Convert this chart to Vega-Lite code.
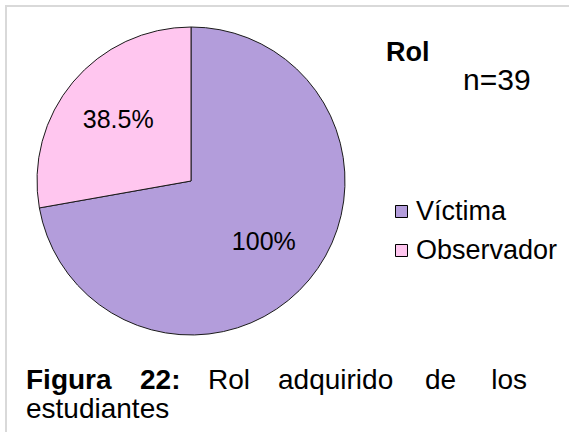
{
  "$schema": "https://vega.github.io/schema/vega-lite/v6.json",
  "width": 382,
  "height": 362,
  "autosize": "none",
  "padding": {"left": 0, "top": 0, "right": 187, "bottom": 74},
  "background": "white",
  "config": {"view": {"stroke": null}, "font": "Liberation Sans", "text": {"font": "Liberation Sans"}},
  "layer": [
    {
      "data": {"values": [
        {"rol": "Víctima", "valor": 100, "etiqueta": "100%"},
        {"rol": "Observador", "valor": 38.5, "etiqueta": "38.5%"}
      ]},
      "layer": [
        {
          "mark": {"type": "arc", "outerRadius": 154, "stroke": "#1a1a1a", "strokeWidth": 1},
          "encoding": {
            "theta": {"field": "valor", "type": "quantitative", "stack": true},
            "color": {
              "field": "rol", "type": "nominal",
              "scale": {"domain": ["Víctima", "Observador"], "range": ["#b39ddb", "#ffc6ef"]},
              "legend": {
                "title": null, "orient": "none", "legendX": 388, "legendY": 198,
                "padding": 0, "symbolType": "square", "symbolSize": 144,
                "symbolStrokeColor": "#000000", "symbolStrokeWidth": 1,
                "labelFont": "Liberation Sans", "labelFontSize": 27, "labelColor": "#000000",
                "labelOffset": 1, "rowPadding": 11
              }
            },
            "order": {"field": "valor", "sort": "descending"}
          }
        },
        {
          "mark": {"type": "text", "radius": 95, "fontSize": 25, "color": "#000000", "font": "Liberation Sans"},
          "encoding": {
            "theta": {"field": "valor", "type": "quantitative", "stack": true},
            "detail": {"field": "rol", "type": "nominal"},
            "text": {"field": "etiqueta", "type": "nominal"},
            "order": {"field": "valor", "sort": "descending"}
          }
        }
      ]
    },
    {
      "data": {"values": [{"t": "Rol"}]},
      "mark": {"type": "text", "fontSize": 27, "fontWeight": "bold", "align": "left", "baseline": "alphabetic", "color": "#000000"},
      "encoding": {"text": {"field": "t"}, "x": {"value": 386}, "y": {"value": 61}}
    },
    {
      "data": {"values": [{"t": "n=39"}]},
      "mark": {"type": "text", "fontSize": 30, "align": "left", "baseline": "alphabetic", "color": "#000000"},
      "encoding": {"text": {"field": "t"}, "x": {"value": 463}, "y": {"value": 90}}
    },
    {
      "data": {"values": [{"t": "Figura"}]},
      "mark": {"type": "text", "fontSize": 28, "fontWeight": "bold", "align": "left", "baseline": "alphabetic", "color": "#000000"},
      "encoding": {"text": {"field": "t"}, "x": {"value": 26}, "y": {"value": 389}}
    },
    {
      "data": {"values": [{"t": "22:"}]},
      "mark": {"type": "text", "fontSize": 28, "fontWeight": "bold", "align": "left", "baseline": "alphabetic", "color": "#000000"},
      "encoding": {"text": {"field": "t"}, "x": {"value": 140}, "y": {"value": 389}}
    },
    {
      "data": {"values": [{"t": "Rol"}]},
      "mark": {"type": "text", "fontSize": 28, "align": "left", "baseline": "alphabetic", "color": "#000000"},
      "encoding": {"text": {"field": "t"}, "x": {"value": 208}, "y": {"value": 389}}
    },
    {
      "data": {"values": [{"t": "adquirido"}]},
      "mark": {"type": "text", "fontSize": 28, "align": "left", "baseline": "alphabetic", "color": "#000000"},
      "encoding": {"text": {"field": "t"}, "x": {"value": 278}, "y": {"value": 389}}
    },
    {
      "data": {"values": [{"t": "de"}]},
      "mark": {"type": "text", "fontSize": 28, "align": "left", "baseline": "alphabetic", "color": "#000000"},
      "encoding": {"text": {"field": "t"}, "x": {"value": 425}, "y": {"value": 389}}
    },
    {
      "data": {"values": [{"t": "los"}]},
      "mark": {"type": "text", "fontSize": 28, "align": "right", "baseline": "alphabetic", "color": "#000000"},
      "encoding": {"text": {"field": "t"}, "x": {"value": 527}, "y": {"value": 389}}
    },
    {
      "data": {"values": [{"t": "estudiantes"}]},
      "mark": {"type": "text", "fontSize": 28, "align": "left", "baseline": "alphabetic", "color": "#000000"},
      "encoding": {"text": {"field": "t"}, "x": {"value": 26}, "y": {"value": 418}}
    },
    {
      "data": {"values": [{"t": "borde"}]},
      "mark": {"type": "rule", "color": "#d9d9d9", "strokeWidth": 2},
      "encoding": {"x": {"value": 5}, "x2": {"value": 569}, "y": {"value": 6}}
    },
    {
      "data": {"values": [{"t": "borde"}]},
      "mark": {"type": "rule", "color": "#d9d9d9", "strokeWidth": 2},
      "encoding": {"x": {"value": 6}, "y": {"value": 5}, "y2": {"value": 432}}
    }
  ]
}
